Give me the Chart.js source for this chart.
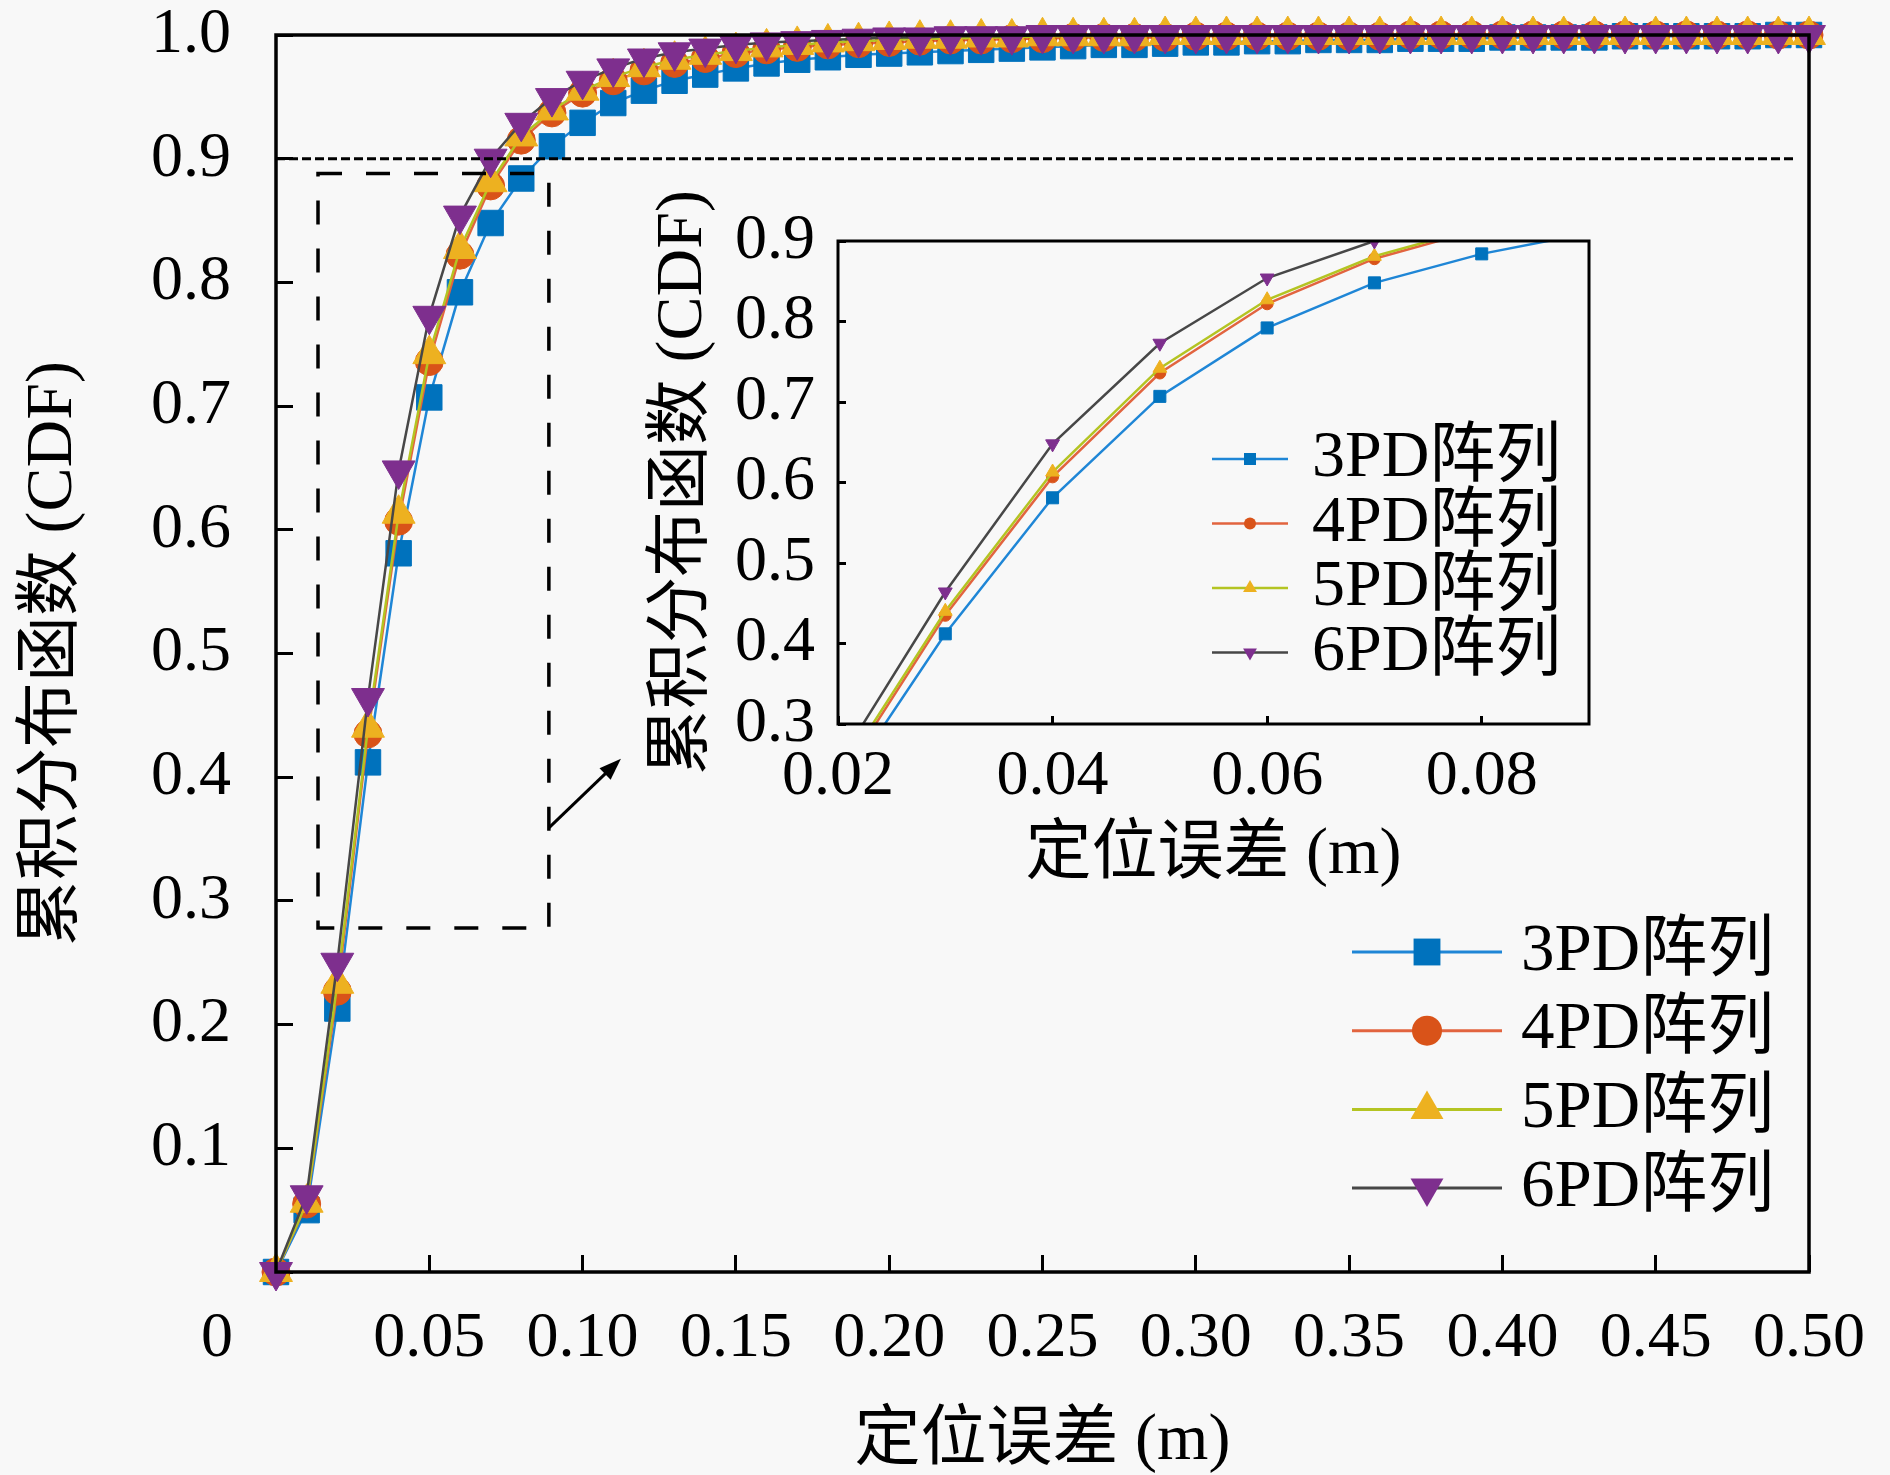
<!DOCTYPE html>
<html>
<head>
  <meta charset="utf-8">
  <title>定位误差 CDF</title>
  <!-- Chart.js from CDN -->
  <script src="https://cdn.jsdelivr.net/npm/chart.js@4.4.0/dist/chart.umd.min.js"></script>
  <style>
    html, body { margin: 0; padding: 0; background: #f8f8f8; }
    #main { position: absolute; left: 0; top: 0; width: 1890px; height: 1475px; }
    #inset { position: absolute; left: 620px; top: 160px; width: 1000px; height: 734px; }
  </style>
</head>
<body>
  <div id="main"><canvas id="chart"></canvas></div>
  <div id="inset"><canvas id="zoom"></canvas></div>
  <script>
    // positioning error (m), one point every 0.01
    var errors = [0.00, 0.01, 0.02, 0.03, 0.04, 0.05, 0.06, 0.07, 0.08, 0.09,
                  0.10, 0.11, 0.12, 0.13, 0.14, 0.15, 0.16, 0.17, 0.18, 0.19,
                  0.20, 0.21, 0.22, 0.23, 0.24, 0.25, 0.26, 0.27, 0.28, 0.29,
                  0.30, 0.31, 0.32, 0.33, 0.34, 0.35, 0.36, 0.37, 0.38, 0.39,
                  0.40, 0.41, 0.42, 0.43, 0.44, 0.45, 0.46, 0.47, 0.48, 0.49, 0.50];

    // CDF values
    var cdf3 = [0, 0.050, 0.213, 0.412, 0.581, 0.707, 0.792, 0.848, 0.884, 0.910,
                0.929, 0.945, 0.955, 0.963, 0.968, 0.973, 0.977, 0.980, 0.982, 0.984,
                0.985, 0.986, 0.987, 0.988, 0.989, 0.990, 0.991, 0.992, 0.992, 0.993,
                0.994, 0.994, 0.995, 0.995, 0.996, 0.996, 0.996, 0.997, 0.997, 0.997,
                0.998, 0.998, 0.998, 0.998, 0.999, 0.999, 0.999, 0.999, 0.999, 1.000, 1.000];
    var cdf4 = [0, 0.055, 0.227, 0.435, 0.607, 0.736, 0.822, 0.878, 0.915, 0.937,
                0.953, 0.963, 0.971, 0.977, 0.981, 0.985, 0.988, 0.990, 0.992, 0.993,
                0.994, 0.995, 0.996, 0.996, 0.997, 0.997, 0.998, 0.998, 0.998, 0.998,
                0.999, 0.999, 0.999, 0.999, 0.999, 0.999, 0.999, 1.000, 1.000, 1.000,
                1.000, 1.000, 1.000, 1.000, 1.000, 1.000, 1.000, 1.000, 1.000, 1.000, 1.000];
    var cdf5 = [0, 0.056, 0.233, 0.440, 0.613, 0.742, 0.827, 0.881, 0.918, 0.939,
                0.955, 0.966, 0.974, 0.980, 0.984, 0.987, 0.990, 0.992, 0.994, 0.995,
                0.996, 0.997, 0.997, 0.998, 0.998, 0.999, 0.999, 0.999, 0.999, 1.000,
                1.000, 1.000, 1.000, 1.000, 1.000, 1.000, 1.000, 1.000, 1.000, 1.000,
                1.000, 1.000, 1.000, 1.000, 1.000, 1.000, 1.000, 1.000, 1.000, 1.000, 1.000];
    var cdf6 = [0, 0.062, 0.250, 0.464, 0.648, 0.773, 0.854, 0.900, 0.929, 0.949,
                0.963, 0.973, 0.981, 0.986, 0.989, 0.992, 0.994, 0.995, 0.996, 0.997,
                0.998, 0.998, 0.999, 0.999, 0.999, 1.000, 1.000, 1.000, 1.000, 1.000,
                1.000, 1.000, 1.000, 1.000, 1.000, 1.000, 1.000, 1.000, 1.000, 1.000,
                1.000, 1.000, 1.000, 1.000, 1.000, 1.000, 1.000, 1.000, 1.000, 1.000, 1.000];

    var seriesNames = ['3PD阵列', '4PD阵列', '5PD阵列', '6PD阵列'];
    var seriesValues = [cdf3, cdf4, cdf5, cdf6];

    // main axes
    var xTicks = [0, 0.05, 0.10, 0.15, 0.20, 0.25, 0.30, 0.35, 0.40, 0.45, 0.50];
    var xTickLabels = ['0', '0.05', '0.10', '0.15', '0.20', '0.25', '0.30', '0.35', '0.40', '0.45', '0.50'];
    var yTicks = [0, 0.1, 0.2, 0.3, 0.4, 0.5, 0.6, 0.7, 0.8, 0.9, 1.0];
    var yTickLabels = ['', '0.1', '0.2', '0.3', '0.4', '0.5', '0.6', '0.7', '0.8', '0.9', '1.0'];

    // inset axes
    var insetXTicks = [0.02, 0.04, 0.06, 0.08];
    var insetXTickLabels = ['0.02', '0.04', '0.06', '0.08'];
    var insetYTicks = [0.3, 0.4, 0.5, 0.6, 0.7, 0.8, 0.9];
    var insetYTickLabels = ['0.3', '0.4', '0.5', '0.6', '0.7', '0.8', '0.9'];

    var xTitle = '定位误差 (m)';
    var yTitle = '累积分布函数 (CDF)';

    // annotations (data units)
    var threshold = { y: 0.9, x0: 0, x1: 0.495 };
    var zoomBox = { x0: 0.0137, x1: 0.089, y0: 0.278, y1: 0.888 };
    var arrow = { x0: 0.089, y0: 0.359, x1: 0.1125, y1: 0.415 };

    // styles
    var markerColors = ['#0072BD', '#D95319', '#EDB120', '#7E2F8E'];
    var lineColors = ['#1f86d6', '#e2643f', '#b4c422', '#474747'];
    var markerStyles = ['rect', 'circle', 'triangle', 'triangle'];
    var markerRotations = [0, 0, 0, 180];
    var fontFamily = '"Liberation Serif", "Noto Sans CJK SC", serif';

    function makeDatasets(markerSizes, lineWidth, clip) {
      return seriesNames.map(function (name, i) {
        var ds = {
          label: name,
          data: errors.map(function (e, j) { return { x: e, y: seriesValues[i][j] }; }),
          borderColor: lineColors[i],
          borderWidth: lineWidth,
          pointStyle: markerStyles[i],
          pointRotation: markerRotations[i],
          pointRadius: markerSizes[i],
          pointBackgroundColor: markerColors[i],
          pointBorderColor: markerColors[i],
          pointBorderWidth: 1,
          fill: false,
          tension: 0,
          order: 3 - i   // 6PD drawn on top
        };
        if (clip !== undefined) ds.clip = clip;
        return ds;
      });
    }

    function makeAxis(o) {
      return {
        type: 'linear',
        position: o.position,
        min: o.min,
        max: o.max,
        afterBuildTicks: function (scale) {
          scale.ticks = o.ticks.map(function (v) { return { value: v }; });
        },
        afterFit: function (scale) {
          if (o.position === 'left') scale.width = o.size; else scale.height = o.size;
          // fixed plot box: no extra room for overhanging labels
          scale.paddingTop = 0; scale.paddingBottom = 0;
          scale.paddingLeft = 0; scale.paddingRight = 0;
        },
        ticks: {
          autoSkip: false, maxRotation: 0, minRotation: 0,
          padding: o.padding, color: '#000',
          font: { family: fontFamily, size: 64 },
          callback: function (v, i) { return o.labels[i]; }
        },
        grid: {
          display: true, drawOnChartArea: false, drawTicks: true,
          tickLength: -o.tick, tickWidth: 3, tickColor: '#000', color: '#000'
        },
        border: { display: false },
        title: {
          display: true, text: o.title, color: '#000',
          font: { family: fontFamily, size: 66, lineHeight: 1 },
          padding: o.titlePad
        }
      };
    }

    function drawMarker(ctx, style, rot, r, x, y) {
      ctx.beginPath();
      if (style === 'rect') {
        var s = r * Math.SQRT2;
        ctx.rect(x - s / 2, y - s / 2, s, s);
      } else if (style === 'circle') {
        ctx.arc(x, y, r, 0, Math.PI * 2);
      } else {
        var d = rot === 180 ? -1 : 1;
        ctx.moveTo(x, y - d * r);
        ctx.lineTo(x + r * 0.866, y + d * r / 2);
        ctx.lineTo(x - r * 0.866, y + d * r / 2);
        ctx.closePath();
      }
      ctx.fill();
    }

    function drawLegend(ctx, ca, o) {
      ctx.save();
      ctx.font = o.fontSize + 'px ' + fontFamily;
      ctx.textBaseline = 'middle';
      ctx.textAlign = 'left';
      seriesNames.forEach(function (name, i) {
        var y = ca.top + o.top + i * o.step;
        ctx.strokeStyle = lineColors[i];
        ctx.lineWidth = o.lineWidth;
        ctx.beginPath();
        ctx.moveTo(ca.left + o.x0, y);
        ctx.lineTo(ca.left + o.x1, y);
        ctx.stroke();
        ctx.fillStyle = markerColors[i];
        drawMarker(ctx, markerStyles[i], markerRotations[i], o.marker[i], ca.left + (o.x0 + o.x1) / 2, y);
        ctx.fillStyle = '#000';
        ctx.fillText(name, ca.left + o.textX, y);
      });
      ctx.restore();
    }

    var mainExtras = {
      id: 'mainExtras',
      afterDatasetsDraw: function (chart) {
        var ctx = chart.ctx, xs = chart.scales.x, ys = chart.scales.y, ca = chart.chartArea;
        ctx.save();
        ctx.strokeStyle = '#000';
        // 0.9 reference line
        ctx.lineWidth = 3;
        ctx.setLineDash([9, 4]);
        ctx.beginPath();
        ctx.moveTo(xs.getPixelForValue(threshold.x0), ys.getPixelForValue(threshold.y));
        ctx.lineTo(xs.getPixelForValue(threshold.x1), ys.getPixelForValue(threshold.y));
        ctx.stroke();
        // zoomed region
        ctx.lineWidth = 3.5;
        ctx.setLineDash([24, 24]);
        ctx.beginPath();
        ctx.moveTo(xs.getPixelForValue(zoomBox.x0), ys.getPixelForValue(zoomBox.y1));
        ctx.lineTo(xs.getPixelForValue(zoomBox.x1), ys.getPixelForValue(zoomBox.y1));
        ctx.lineTo(xs.getPixelForValue(zoomBox.x1), ys.getPixelForValue(zoomBox.y0));
        ctx.lineTo(xs.getPixelForValue(zoomBox.x0), ys.getPixelForValue(zoomBox.y0));
        ctx.closePath();
        ctx.stroke();
        // arrow to the inset
        ctx.lineWidth = 3;
        ctx.setLineDash([]);
        var ax0 = xs.getPixelForValue(arrow.x0), ay0 = ys.getPixelForValue(arrow.y0);
        var ax1 = xs.getPixelForValue(arrow.x1), ay1 = ys.getPixelForValue(arrow.y1);
        var ang = Math.atan2(ay1 - ay0, ax1 - ax0);
        ctx.beginPath();
        ctx.moveTo(ax0, ay0);
        ctx.lineTo(ax1 - 14 * Math.cos(ang), ay1 - 14 * Math.sin(ang));
        ctx.stroke();
        ctx.fillStyle = '#000';
        ctx.beginPath();
        ctx.moveTo(ax1, ay1);
        ctx.lineTo(ax1 - 22 * Math.cos(ang) + 8 * Math.sin(ang), ay1 - 22 * Math.sin(ang) - 8 * Math.cos(ang));
        ctx.lineTo(ax1 - 22 * Math.cos(ang) - 8 * Math.sin(ang), ay1 - 22 * Math.sin(ang) + 8 * Math.cos(ang));
        ctx.closePath();
        ctx.fill();
        // axes box
        ctx.lineWidth = 3.5;
        ctx.strokeRect(ca.left, ca.top, ca.right - ca.left, ca.bottom - ca.top);
        ctx.restore();
      },
      afterDraw: function (chart) {
        var ctx = chart.ctx, ca = chart.chartArea;
        // origin label
        ctx.save();
        ctx.font = '64px ' + fontFamily;
        ctx.fillStyle = '#000';
        ctx.textAlign = 'center';
        ctx.textBaseline = 'middle';
        ctx.fillText(xTickLabels[0], ca.left - 59, ca.bottom + 67);
        ctx.restore();
        drawLegend(ctx, ca, {
          top: 917, step: 78.7, x0: 1076, x1: 1226, textX: 1245,
          lineWidth: 3, fontSize: 67, marker: [19, 15, 19, 19]
        });
      }
    };

    var insetExtras = {
      id: 'insetExtras',
      afterDatasetsDraw: function (chart) {
        var ctx = chart.ctx, ca = chart.chartArea;
        ctx.save();
        ctx.strokeStyle = '#000';
        ctx.lineWidth = 3;
        ctx.strokeRect(ca.left, ca.top, ca.right - ca.left, ca.bottom - ca.top);
        ctx.restore();
      },
      afterDraw: function (chart) {
        drawLegend(chart.ctx, chart.chartArea, {
          top: 218, step: 64.5, x0: 374, x1: 450, textX: 474,
          lineWidth: 2.5, fontSize: 66, marker: [8.5, 6, 8, 8]
        });
      }
    };

    var mainChart = new Chart(document.getElementById('chart').getContext('2d'), {
      type: 'line',
      data: { datasets: makeDatasets([18, 14, 19, 19], 2.5, false) },
      options: {
        responsive: true,
        maintainAspectRatio: false,
        animation: false,
        events: [],
        layout: { autoPadding: false, padding: { top: 35, right: 81, left: 0, bottom: 0 } },
        plugins: { legend: { display: false }, tooltip: { enabled: false } },
        scales: {
          x: makeAxis({ position: 'bottom', min: 0, max: 0.5, ticks: xTicks, labels: xTickLabels.map(function (l, i) { return i === 0 ? '' : l; }),
                        size: 203, padding: 46, tick: 17, title: xTitle, titlePad: { top: 0, bottom: 0 } }),
          y: makeAxis({ position: 'left', min: 0, max: 1, ticks: yTicks, labels: yTickLabels,
                        size: 276, padding: 62, tick: 17, title: yTitle, titlePad: { top: 21, bottom: 0 } })
        }
      },
      plugins: [mainExtras]
    });

    var insetChart = new Chart(document.getElementById('zoom').getContext('2d'), {
      type: 'line',
      data: { datasets: makeDatasets([8.5, 6, 8, 8], 2.5) },
      options: {
        responsive: true,
        maintainAspectRatio: false,
        animation: false,
        events: [],
        layout: { autoPadding: false, padding: { top: 81, right: 31, left: 0, bottom: 0 } },
        plugins: { legend: { display: false }, tooltip: { enabled: false } },
        scales: {
          x: makeAxis({ position: 'bottom', min: 0.02, max: 0.09, ticks: insetXTicks, labels: insetXTickLabels,
                        size: 170, padding: 23, tick: 8, title: xTitle, titlePad: { top: 0, bottom: 5 } }),
          y: makeAxis({ position: 'left', min: 0.3, max: 0.9, ticks: insetYTicks, labels: insetYTickLabels,
                        size: 218, padding: 31, tick: 8, title: yTitle, titlePad: { top: 31, bottom: 0 } })
        }
      },
      plugins: [insetExtras]
    });
  </script>
</body>
</html>
